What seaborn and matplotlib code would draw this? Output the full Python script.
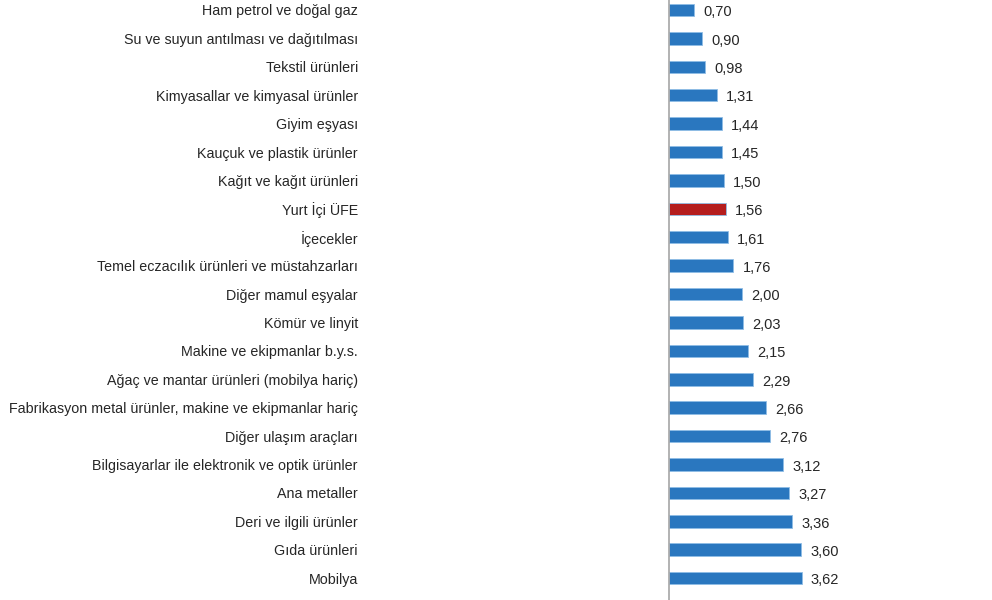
import numpy as np
import pandas as pd
import matplotlib
matplotlib.use("Agg")
import matplotlib.pyplot as plt
import seaborn as sns

categories = [
    "Ham petrol ve doğal gaz",
    "Su ve suyun antılması ve dağıtılması",
    "Tekstil ürünleri",
    "Kimyasallar ve kimyasal ürünler",
    "Giyim eşyası",
    "Kauçuk ve plastik ürünler",
    "Kağıt ve kağıt ürünleri",
    "Yurt İçi ÜFE",
    "İçecekler",
    "Temel eczacılık ürünleri ve müstahzarları",
    "Diğer mamul eşyalar",
    "Kömür ve linyit",
    "Makine ve ekipmanlar b.y.s.",
    "Ağaç ve mantar ürünleri (mobilya hariç)",
    "Fabrikasyon metal ürünler, makine ve ekipmanlar hariç",
    "Diğer ulaşım araçları",
    "Bilgisayarlar ile elektronik ve optik ürünler",
    "Ana metaller",
    "Deri ve ilgili ürünler",
    "Gıda ürünleri",
    "Mobilya",
    "Diğer metalik olmayan mineral ürünler",
]
values = [0.70, 0.90, 0.98, 1.31, 1.44, 1.45, 1.50, 1.56, 1.61, 1.76, 2.00,
          2.03, 2.15, 2.29, 2.66, 2.76, 3.12, 3.27, 3.36, 3.60, 3.62, 4.35]
highlight = "Yurt İçi ÜFE"

df = pd.DataFrame({"kategori": categories, "deger": values})
df["grup"] = np.where(df["kategori"] == highlight, "ufe", "sektor")

sns.set_style("white")
plt.rcParams["font.family"] = ["Liberation Sans", "DejaVu Sans"]

fig = plt.figure(figsize=(9.92, 6), dpi=100)
ax = fig.add_axes([0.365, 0.0, 0.635, 1.0])

sns.barplot(data=df, y="kategori", x="deger", hue="grup", orient="h",
            palette={"sektor": "#2a77bf", "ufe": "#b51d1d"}, saturation=1,
            dodge=False, width=0.44, legend=False, ax=ax,
            edgecolor="#8fbde6", linewidth=0.6)

ax.set_xlim(-8.35, 8.8)
ax.set_ylim(20.77, -0.352)
ax.axvline(0, color="#a6a6a6", lw=1.2)
for s in ax.spines.values():
    s.set_visible(False)
ax.set_xticks([])
ax.set_xlabel("")
ax.set_ylabel("")
ax.tick_params(axis="y", length=0, pad=3, labelsize=10.3, labelcolor="#262626")

for i, v in enumerate(values):
    ax.text(v + 0.25, i + 0.08, f"{v:.2f}".replace(".", ","), va="center",
            ha="left", fontsize=10.5, color="#262626")

fig.savefig("out.png", dpi=100)
